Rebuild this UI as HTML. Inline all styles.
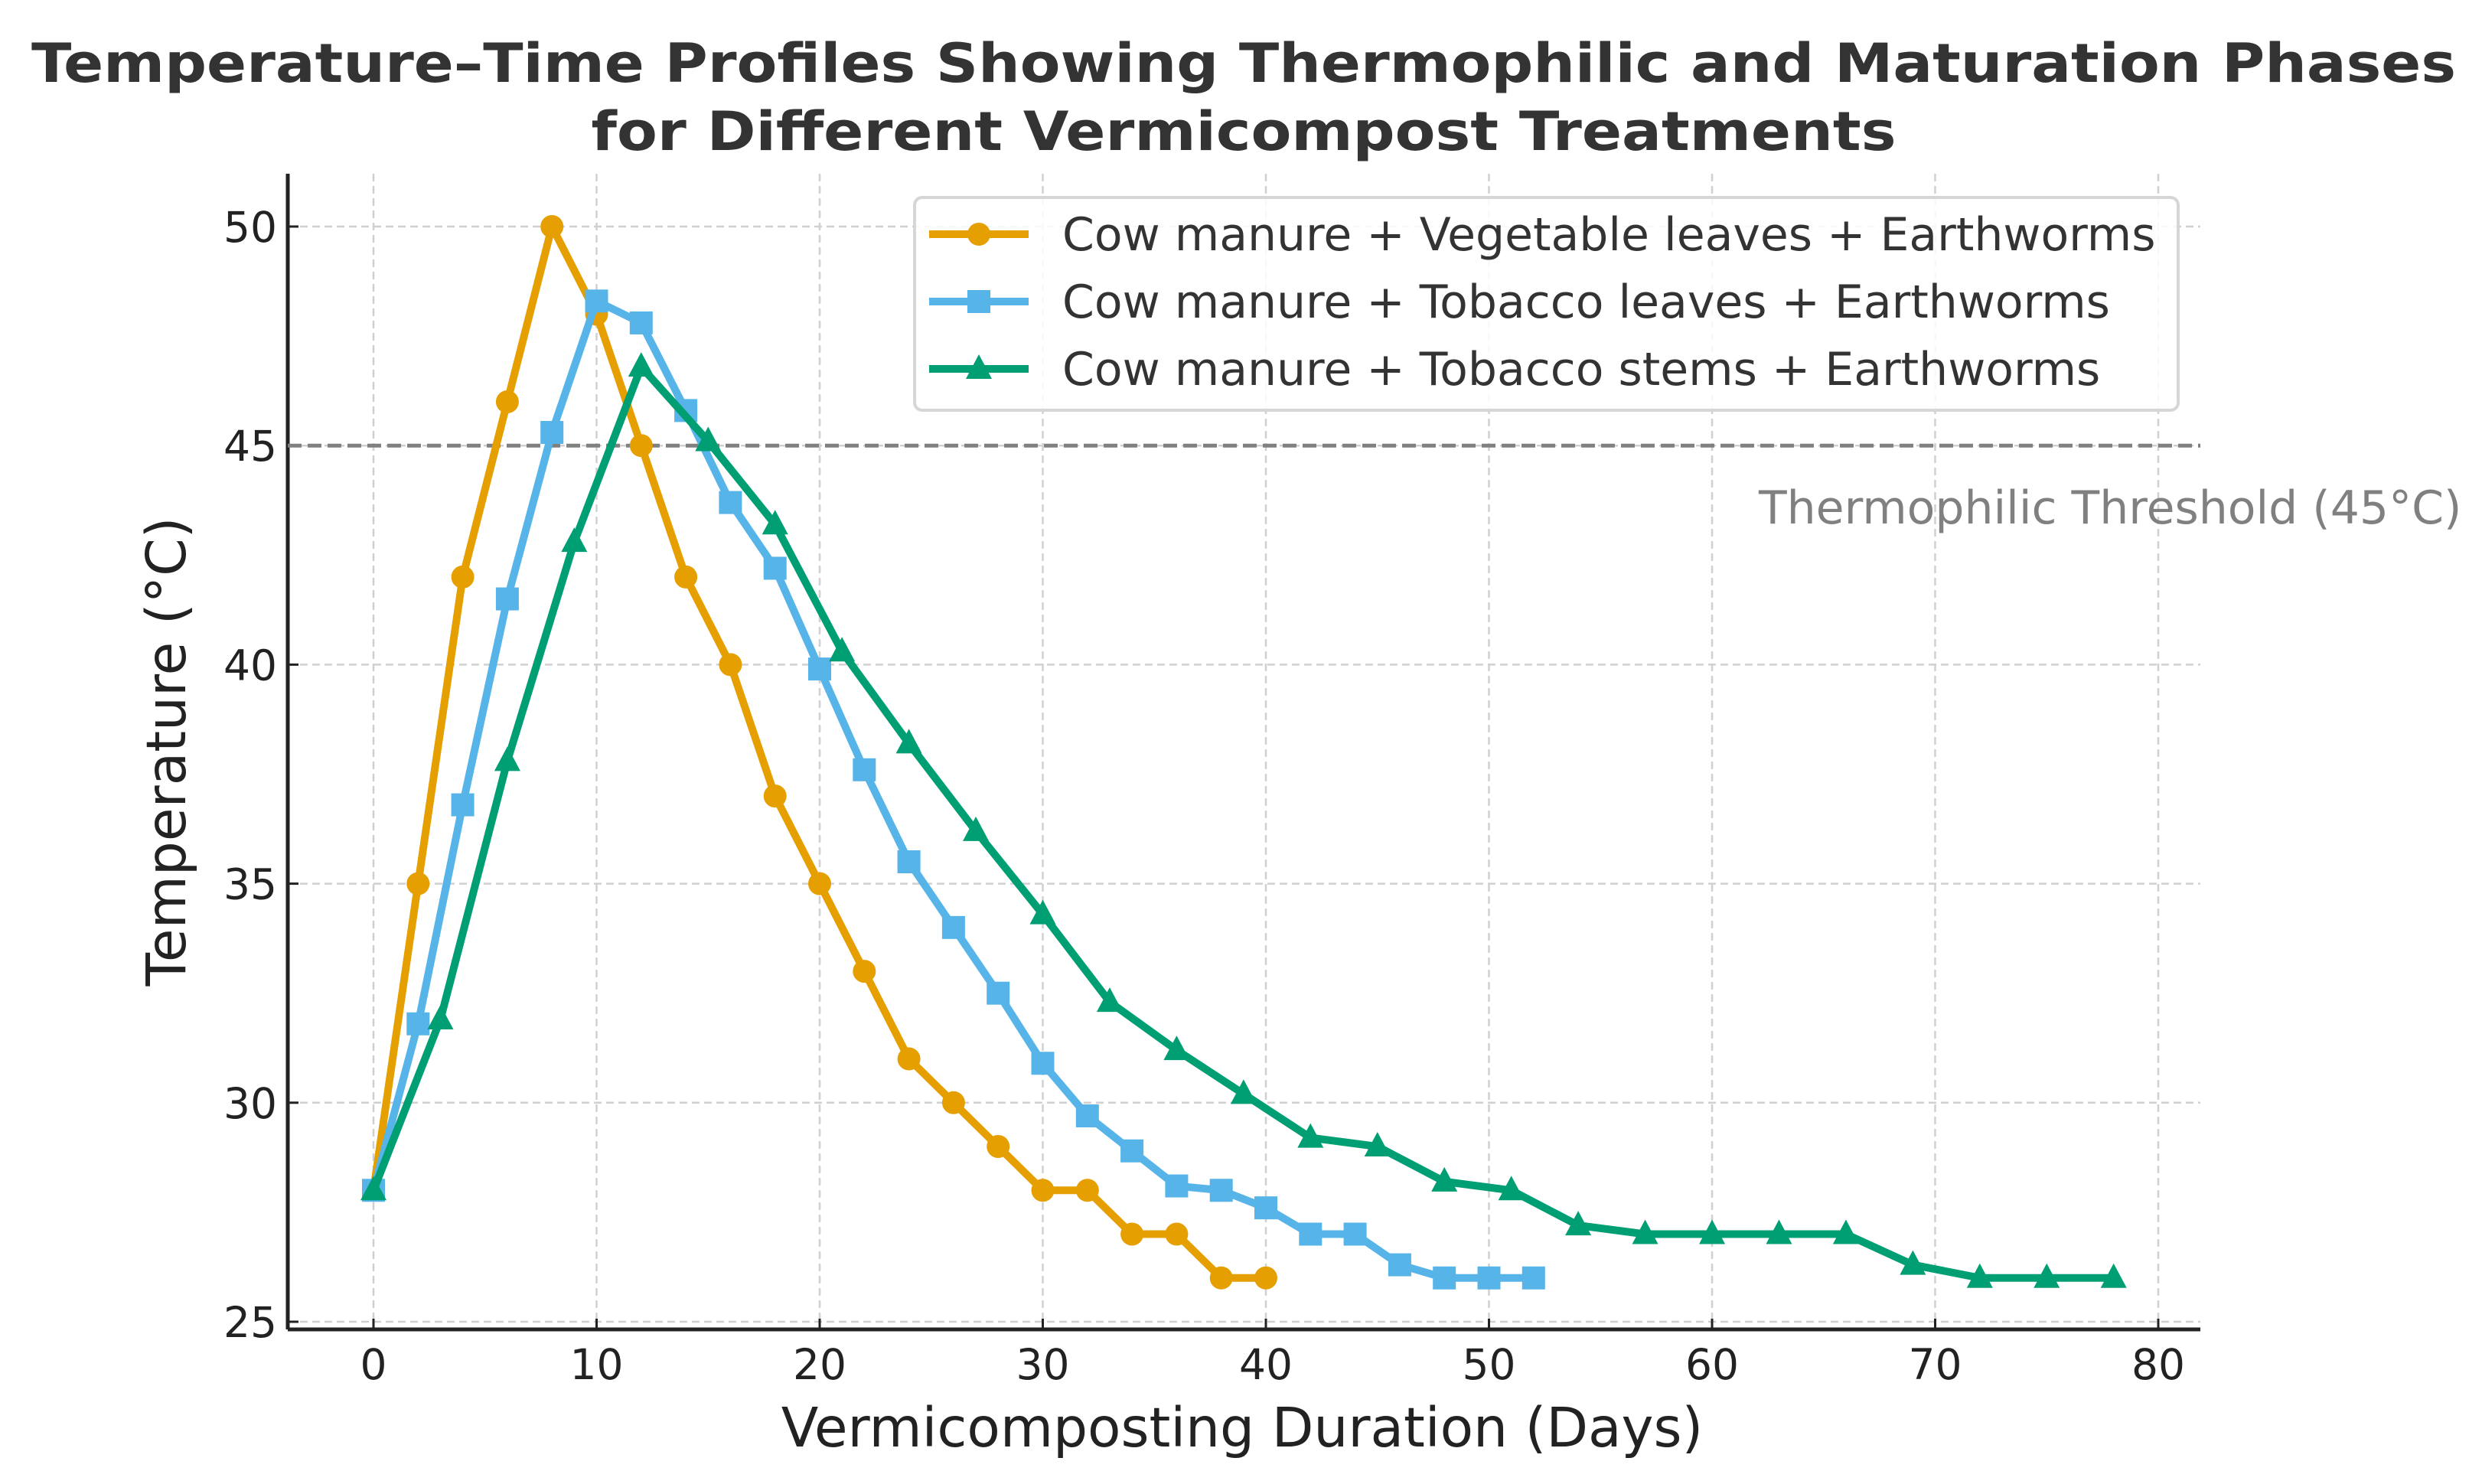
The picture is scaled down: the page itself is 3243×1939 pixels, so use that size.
<!DOCTYPE html>
<html><head><meta charset="utf-8"><style>
html,body{margin:0;padding:0;background:#fff;}
svg{display:block;font-family:"DejaVu Sans","Liberation Sans",sans-serif;}
</style></head><body>
<svg id="chart" width="3243" height="1939" viewBox="0 0 3243 1939" xmlns="http://www.w3.org/2000/svg">
<rect width="3243" height="1939" fill="#fff"/>
<text x="1625" y="107" text-anchor="middle" font-weight="bold" font-size="70" fill="#333" textLength="3168" lengthAdjust="spacingAndGlyphs">Temperature–Time Profiles Showing Thermophilic and Maturation Phases</text>
<text x="1625" y="196" text-anchor="middle" font-weight="bold" font-size="70" fill="#333" textLength="1705" lengthAdjust="spacingAndGlyphs">for Different Vermicompost Treatments</text>
<g id="grid"></g>
<g id="axes"></g>
<g id="series"></g>
<g id="legend"></g>
</svg>
<script>
const xTicks = [0,10,20,30,40,50,60,70,80];
const yTicks = [25,30,35,40,45,50];
const threshold = 45;
const seriesNames = ["Cow manure + Vegetable leaves + Earthworms","Cow manure + Tobacco leaves + Earthworms","Cow manure + Tobacco stems + Earthworms"];
const vegDays = [0,2,4,6,8,10,12,14,16,18,20,22,24,26,28,30,32,34,36,38,40];
const vegTemps = [28,35,42,46,50,48,45,42,40,37,35,33,31,30,29,28,28,27,27,26,26];
const leafDays = [0,2,4,6,8,10,12,14,16,18,20,22,24,26,28,30,32,34,36,38,40,42,44,46,48,50,52];
const leafTemps = [28,31.8,36.8,41.5,45.3,48.3,47.8,45.8,43.7,42.2,39.9,37.6,35.5,34,32.5,30.9,29.7,28.9,28.1,28,27.6,27,27,26.3,26,26,26];
const stemDays = [0,3,6,9,12,15,18,21,24,27,30,33,36,39,42,45,48,51,54,57,60,63,66,69,72,75,78];
const stemTemps = [28,31.9,37.8,42.8,46.8,45.1,43.2,40.3,38.2,36.2,34.3,32.3,31.2,30.2,29.2,29,28.2,28,27.2,27,27,27,27,26.3,26,26,26];

const NS = "http://www.w3.org/2000/svg";
const L=376,R=2875,T=227,B=1737;
function xs(v){return 488+(v-0)*(2820-488)/80;}
function ys(v){return 1727-(v-25)*(1727-296)/25;}
function mk(tag,attrs,parent){const e=document.createElementNS(NS,tag);for(const k in attrs)e.setAttribute(k,attrs[k]);parent.appendChild(e);return e;}
const grid=document.getElementById('grid'),axes=document.getElementById('axes'),ser=document.getElementById('series'),leg=document.getElementById('legend');

xTicks.forEach(t=>{
  const g=mk('line',{x1:xs(t),x2:xs(t),y1:T,y2:B,stroke:'#d0d0d0','stroke-width':2.5,'stroke-dasharray':'10,6'},grid);
  
  
  const tk=mk('line',{x1:xs(t),x2:xs(t),y1:B,y2:B-14,stroke:'#222','stroke-width':3},axes);
  
  
  const tl=mk('text',{x:xs(t),y:1802,'text-anchor':'middle','font-size':55,fill:'#222'},axes);
  tl.textContent=t;
  
  
});
yTicks.forEach(t=>{
  const g=mk('line',{x1:L,x2:R,y1:ys(t),y2:ys(t),stroke:'#d0d0d0','stroke-width':2.5,'stroke-dasharray':'10,6'},grid);
  
  
  const tk=mk('line',{x1:L,x2:L+14,y1:ys(t),y2:ys(t),stroke:'#222','stroke-width':3},axes);
  
  
  const tl=mk('text',{x:362,y:ys(t)+20,'text-anchor':'end','font-size':55,fill:'#222'},axes);
  tl.textContent=t;
  
  
});
const sp1=mk('line',{x1:L,x2:L,y1:T,y2:B,stroke:'#222','stroke-width':5},axes);


const sp2=mk('line',{x1:L,x2:R,y1:B,y2:B,stroke:'#222','stroke-width':5},axes);


const xl=mk('text',{x:1623,y:1890,'text-anchor':'middle','font-size':71,fill:'#222'},axes);
xl.textContent='Vermicomposting Duration (Days)';


const yl=mk('text',{x:0,y:0,'text-anchor':'middle','font-size':71,fill:'#222',transform:'translate(242,982) rotate(-90)'},axes);
yl.textContent='Temperature (°C)';



const th=mk('line',{x1:L,x2:R,y1:ys(threshold),y2:ys(threshold),stroke:'#808080','stroke-width':5,'stroke-dasharray':'18,8'},ser);


const thl=mk('text',{x:2298,y:ys(threshold)+102,'font-size':60,fill:'#808080'},ser);
thl.textContent='Thermophilic Threshold ('+threshold+'°C)';



const colors=['#E69F00','#56B4E9','#009E73'];
const shapes=['circle','square','triangle'];
function marker(shape,x,y,c,parent){
  let m;
  if(shape==='circle') m=mk('circle',{cx:x,cy:y,r:15,fill:c},parent);
  else if(shape==='square') m=mk('rect',{x:x-15,y:y-15,width:30,height:30,fill:c},parent);
  else m=mk('polygon',{points:`${x},${y-19} ${x-17},${y+13} ${x+17},${y+13}`,fill:c},parent);
  return m;
}
const allX=[vegDays,leafDays,stemDays], allY=[vegTemps,leafTemps,stemTemps];
const seriesKeys=['vegetable-leaves','tobacco-leaves','tobacco-stems'];
[0,1,2].forEach(i=>{
  const g=mk('g',{},ser);
  
  
  const pts=allX[i].map((d,j)=>xs(d)+','+ys(allY[i][j])).join(' ');
  const pl=mk('polyline',{points:pts,fill:'none',stroke:colors[i],'stroke-width':10,'stroke-linejoin':'round'},g);
  
  
  allX[i].forEach((d,j)=>{
    const m=marker(shapes[i],xs(d),ys(allY[i][j]),colors[i],g);
    
    
  });
});

const box=mk('rect',{x:1195,y:258,width:1651,height:278,rx:10,fill:'#fff','fill-opacity':0.85,stroke:'#d6d6d6','stroke-width':4},leg);


const ly=[306,394,482];
[0,1,2].forEach(i=>{
  const g=mk('g',{},leg);
  
  
  const ln=mk('line',{x1:1214,x2:1344,y1:ly[i],y2:ly[i],stroke:colors[i],'stroke-width':10},g);
  
  
  const m=marker(shapes[i],1279,ly[i],colors[i],g);
  
  
  const t=mk('text',{x:1388,y:ly[i]+21,'font-size':60,fill:'#333'},g);
  t.textContent=seriesNames[i];
  
  
});
</script>
</body></html>
